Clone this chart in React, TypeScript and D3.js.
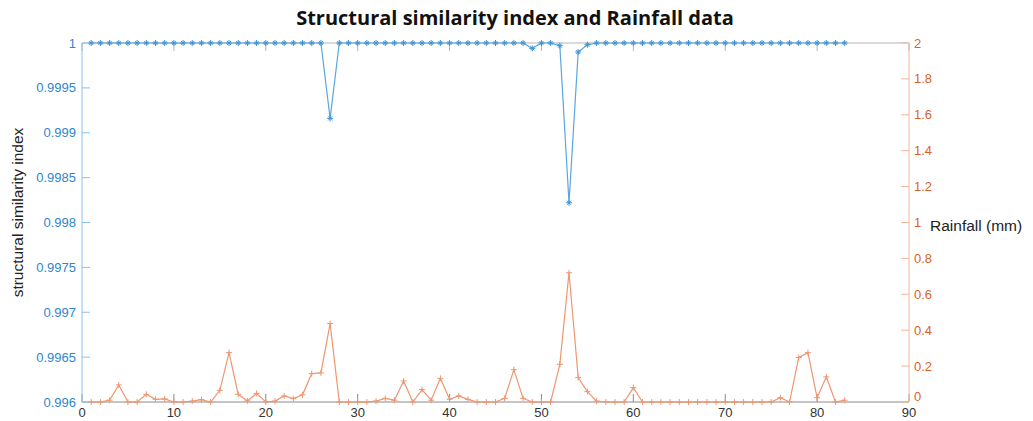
import React, { useRef, useEffect } from "react";
import * as d3 from "d3";

// day index 1..83
const days: number[] = Array.from({ length: 83 }, (_, i) => i + 1);

const ssim: number[] = [
  1, 1, 1, 1, 1, 1, 1, 1, 1, 1,
  1, 1, 1, 1, 1, 1, 1, 1, 1, 1,
  1, 1, 1, 1, 1, 1, 0.99916, 1, 1, 1,
  1, 1, 1, 1, 1, 1, 1, 1, 1, 1,
  1, 1, 1, 1, 1, 1, 1, 1, 0.99994, 1,
  1, 0.99997, 0.99822, 0.9999, 0.99998, 1, 1, 1, 1, 1,
  1, 1, 1, 1, 1, 1, 1, 1, 1, 1,
  1, 1, 1, 1, 1, 1, 1, 1, 1, 1,
  1, 1, 1,
];

const rainfall: number[] = [
  0, 0, 0.01, 0.095, 0, 0, 0.043, 0.015, 0.017, 0,
  0, 0.005, 0.013, 0, 0.065, 0.275, 0.043, 0.006, 0.048, 0,
  0.005, 0.034, 0.019, 0.04, 0.158, 0.162, 0.437, 0, 0, 0,
  0, 0.005, 0.02, 0.01, 0.117, 0, 0.069, 0.01, 0.132, 0.015,
  0.034, 0.015, 0, 0, 0, 0.02, 0.18, 0.02, 0, 0,
  0, 0.21, 0.72, 0.136, 0.058, 0.005, 0, 0, 0, 0.08,
  0, 0, 0, 0, 0, 0, 0, 0, 0, 0,
  0, 0, 0, 0, 0, 0.024, 0, 0.248, 0.275, 0.024,
  0.14, 0, 0.01,
];

const xTicks = [0, 10, 20, 30, 40, 50, 60, 70, 80, 90];
const leftTicks = [0.996, 0.9965, 0.997, 0.9975, 0.998, 0.9985, 0.999, 0.9995, 1];
const rightTicks = [0, 0.2, 0.4, 0.6, 0.8, 1, 1.2, 1.4, 1.6, 1.8, 2];

const W = 1033;
const H = 421;
const FONT = "'Liberation Sans', Arial, sans-serif";
const BLUE = "#2f86cc";
const BLUE_LINE = "#5aa6e0";
const ORANGE = "#d9622b";
const ORANGE_LINE = "#ee9670";

export default function App() {
  const ref = useRef<SVGSVGElement>(null);

  useEffect(() => {
    const svg = d3.select(ref.current);
    svg.selectAll("*").remove();

    const m = { left: 82, right: 909, top: 43, bottom: 402 };

    const x = d3.scaleLinear().domain([0, 90]).range([m.left, m.right]);
    const yL = d3.scaleLinear().domain([0.996, 1]).range([m.bottom, m.top]);
    const yR = d3.scaleLinear().domain([0, 2]).range([m.bottom, m.top]);

    // box top/bottom
    svg.append("line").attr("x1", m.left).attr("x2", m.right)
      .attr("y1", m.top).attr("y2", m.top).attr("stroke", "#b5b5b5");
    svg.append("line").attr("x1", m.left).attr("x2", m.right)
      .attr("y1", m.bottom).attr("y2", m.bottom).attr("stroke", "#8a8a8a");

    // x ticks (inward, bottom and top)
    const xg = svg.append("g");
    xTicks.forEach((t) => {
      xg.append("line").attr("x1", x(t)).attr("x2", x(t))
        .attr("y1", m.bottom).attr("y2", m.bottom - 8).attr("stroke", "#8a8a8a");
      xg.append("line").attr("x1", x(t)).attr("x2", x(t))
        .attr("y1", m.top).attr("y2", m.top + 8).attr("stroke", "#b5b5b5");
      xg.append("text").attr("x", x(t)).attr("y", 417)
        .attr("text-anchor", "middle").attr("font-size", 13)
        .attr("font-family", FONT).attr("fill", "#333")
        .text(t);
    });

    // left axis
    svg.append("line").attr("x1", m.left).attr("x2", m.left)
      .attr("y1", m.top).attr("y2", m.bottom).attr("stroke", "#8cc0ea");
    leftTicks.forEach((t) => {
      svg.append("line").attr("x1", m.left).attr("x2", m.left + 8)
        .attr("y1", yL(t)).attr("y2", yL(t)).attr("stroke", "#8cc0ea");
      svg.append("text").attr("x", m.left - 6).attr("y", yL(t) + 4.5)
        .attr("text-anchor", "end").attr("font-size", 13)
        .attr("font-family", FONT).attr("fill", BLUE)
        .text(t === 1 ? "1" : String(t));
    });

    // right axis
    svg.append("line").attr("x1", m.right).attr("x2", m.right)
      .attr("y1", m.top).attr("y2", m.bottom).attr("stroke", "#f3b79b");
    rightTicks.forEach((t) => {
      svg.append("line").attr("x1", m.right).attr("x2", m.right - 8)
        .attr("y1", yR(t)).attr("y2", yR(t)).attr("stroke", "#f3b79b");
      svg.append("text").attr("x", m.right + 5).attr("y", yR(t) + (t === 0 ? -1 : 4.5))
        .attr("text-anchor", "start").attr("font-size", 13)
        .attr("font-family", FONT).attr("fill", ORANGE)
        .text(String(t));
    });

    // rainfall series
    const rainLine = d3.line<number>()
      .x((_, i) => x(days[i]))
      .y((d) => yR(d));
    svg.append("path").datum(rainfall).attr("d", rainLine)
      .attr("fill", "none").attr("stroke", ORANGE_LINE).attr("stroke-width", 1.2);
    svg.append("g").selectAll("path").data(rainfall).join("path")
      .attr("d", (d, i) => {
        const cx = x(days[i]);
        const cy = yR(d);
        return `M${cx - 3},${cy}H${cx + 3}M${cx},${cy - 3}V${cy + 3}`;
      })
      .attr("stroke", ORANGE_LINE).attr("stroke-width", 1);

    // ssim series
    const ssimLine = d3.line<number>()
      .x((_, i) => x(days[i]))
      .y((d) => yL(d));
    svg.append("path").datum(ssim).attr("d", ssimLine)
      .attr("fill", "none").attr("stroke", BLUE_LINE).attr("stroke-width", 1.2);
    svg.append("g").selectAll("path").data(ssim).join("path")
      .attr("d", (d, i) => {
        const cx = x(days[i]);
        const cy = yL(d);
        return `M${cx - 3},${cy}H${cx + 3}M${cx},${cy - 3}V${cy + 3}` +
          `M${cx - 2},${cy - 2}L${cx + 2},${cy + 2}M${cx - 2},${cy + 2}L${cx + 2},${cy - 2}`;
      })
      .attr("stroke", "#3b93d8").attr("stroke-width", 1);

    // title
    svg.append("text").attr("x", 515).attr("y", 25)
      .attr("text-anchor", "middle").attr("font-size", 20).attr("font-weight", "bold")
      .attr("font-family", "'Open Sans', sans-serif").attr("fill", "#111")
      .text("Structural similarity index and Rainfall data");

    // y labels
    svg.append("text")
      .attr("transform", `translate(23,${(m.top + m.bottom) / 2 - 10}) rotate(-90)`)
      .attr("text-anchor", "middle").attr("font-size", 15.5)
      .attr("font-family", FONT).attr("fill", "#222")
      .text("structural similarity index");
    svg.append("text").attr("x", 930).attr("y", 231)
      .attr("font-size", 15.5).attr("font-family", FONT).attr("fill", "#222")
      .text("Rainfall (mm)");
  }, []);

  return (
    <svg
      ref={ref}
      width={W}
      height={H}
      style={{ position: "absolute", left: 0, top: 0, background: "#fff" }}
    />
  );
}
